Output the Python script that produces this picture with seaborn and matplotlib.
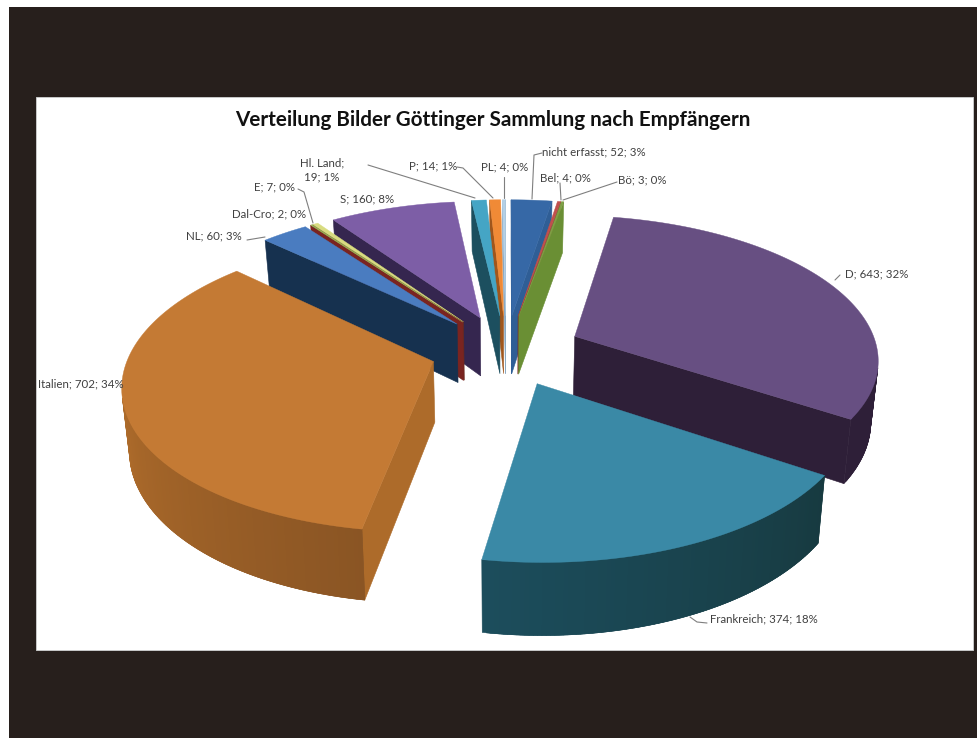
import numpy as np
import matplotlib
matplotlib.use("Agg")
import matplotlib.pyplot as plt
from matplotlib.colors import to_rgb
from matplotlib.patches import Polygon, Rectangle
import seaborn as sns

# Recipients and number of pictures, clockwise from twelve o'clock
recipients = ["nicht erfasst", "Bel", "Bö", "D", "Frankreich", "Italien", "NL",
              "Dal-Cro", "E", "S", "Hl. Land", "P", "PL"]
counts = [52, 4, 3, 643, 374, 702, 60, 2, 7, 160, 19, 14, 4]
shares = [3, 0, 0, 32, 18, 34, 3, 0, 0, 8, 1, 1, 0]

top_colors = ["#3668a6", "#c0504d", "#7f9f45", "#674f82", "#3a89a6", "#c47a34", "#4a7cc0",
              "#9bbb59", "#d8dc80", "#7d5ea6", "#45a5c5", "#f08a36", "#b4d0e6"]
side_colors = ["#2f5e96", "#7a2420", "#6a8f34", "#2e1f38", "#173a40", "#ad6b2a", "#16314f",
               "#7a2420", "#6a2a20", "#35264f", "#1c4f5f", "#a0561c", "#8aa8c0"]
rim_start = ["#2f5e96", "#7a2420", "#6a8f34", "#2e1f38", "#173a40", "#8a5524", "#16314f",
             "#7a2420", "#6a2a20", "#35264f", "#1c4f5f", "#a0561c", "#8aa8c0"]
rim_end = ["#2f5e96", "#7a2420", "#6a8f34", "#2e1f38", "#1c4d5c", "#cc7e30", "#16314f",
           "#7a2420", "#6a2a20", "#35264f", "#1c4f5f", "#a0561c", "#8aa8c0"]

TITLE = "Verteilung Bilder Göttinger Sammlung nach Empfängern"

# Perspective of the exploded pie on the canvas
CX, CY = 506.0, 350.0
RX, RY = 303.0, 142.0
TILT = 0.145
EXPLODE = 0.25
DEPTH = 60.0
TAPER = 0.98


def project(x, y):
    w = 1 + TILT * y
    return CX + RX * x / w, CY - RY * y / w


def lower(x, y):
    px, py = project(x, y)
    return CX + (px - CX) * TAPER, py + DEPTH / (1 + TILT * y)


def mix(a, b, t):
    a, b = np.array(to_rgb(a)), np.array(to_rgb(b))
    return tuple(a + (b - a) * t)


def signed_area(poly):
    xs, ys = np.array(poly).T
    return 0.5 * np.sum(xs * np.roll(ys, -1) - np.roll(xs, -1) * ys)


sns.set_theme(style="white")
plt.rcParams["font.family"] = ["Lato", "DejaVu Sans"]

fig = plt.figure(figsize=(9.78, 7.38), dpi=100, facecolor="#ffffff")
ax = fig.add_axes([0, 0, 1, 1])
ax.set_xlim(0, 978)
ax.set_ylim(738, 0)
ax.axis("off")
sns.despine(ax=ax, left=True, bottom=True)

# Dark mount with the white chart sheet on it
ax.add_patch(Rectangle((9, 7), 969, 731, color="#271f1c", lw=0, zorder=0))
ax.add_patch(Rectangle((35.5, 97), 937.5, 553, facecolor="#ffffff", edgecolor="#c8c8c8", lw=0.7, zorder=1))

edges = np.cumsum([0] + counts) / sum(counts) * 2 * np.pi
slices = []
for i in range(len(counts)):
    mid = (edges[i] + edges[i + 1]) / 2
    slices.append((EXPLODE * np.cos(mid), i, EXPLODE * np.sin(mid)))

# Painted from the back of the pie to the front
z = 2
for oy, i, ox in sorted(slices, reverse=True):
    th = np.linspace(edges[i], edges[i + 1], max(3, int(np.degrees(edges[i + 1] - edges[i]) * 1.5)))
    rim = [(ox + np.sin(t), oy + np.cos(t)) for t in th]
    apex = (ox, oy)
    faces = []
    # Radial side faces
    for a, b in ((apex, rim[0]), (rim[-1], apex)):
        quad = [project(*a), project(*b), lower(*b), lower(*a)]
        if signed_area(quad) < 0:
            faces.append((quad, side_colors[i]))
    # Outer rim in narrow strips that overlap their neighbour, shaded along the arc
    n = len(rim) - 1
    for k in range(n):
        a, b = rim[k], rim[k + 1]
        quad = [project(*a), project(*b), lower(*b), lower(*a)]
        if signed_area(quad) < 0:
            c = mix(rim_start[i], rim_end[i], k / max(1, n - 1))
            # Each strip starts one step back so no seam shows between them
            back = rim[max(k - 1, 0)]
            wide = [project(*back), project(*a), project(*b), lower(*b), lower(*a), lower(*back)]
            faces.append((wide, c))
    for quad, c in faces:
        ax.add_patch(Polygon(quad, closed=True, facecolor=c, edgecolor=c, lw=0.4, zorder=z))
    top = [project(*apex)] + [project(*p) for p in rim]
    ax.add_patch(Polygon(top, closed=True, facecolor=top_colors[i], edgecolor=top_colors[i],
                         lw=0.3, zorder=z + 0.5))
    z += 1

# Data labels and their leader lines
label_spots = {
    "nicht erfasst": (542, 152), "Bel": (540, 178), "Bö": (618, 180),
    "D": (845, 274), "Frankreich": (710, 619), "Italien": (38, 384),
    "NL": (186, 236), "Dal-Cro": (232, 214), "E": (254, 187),
    "S": (340, 199), "P": (409, 166), "PL": (481, 167),
}
leaders = [
    [(542, 153), (534, 155), (532, 199)], [(560, 183), (561, 200)], [(617, 182), (563, 200)],
    [(504, 177), (504, 198)], [(457, 167), (463, 168), (493, 198)], [(368, 165), (475, 198)],
    [(298, 189), (304, 192), (313, 223)], [(247, 240), (265, 237)],
    [(835, 280), (840, 275)], [(690, 617), (697, 622), (707, 623)],
]
for path in leaders:
    xs, ys = zip(*path)
    ax.plot(xs, ys, color="#7f7f7f", lw=0.8, zorder=40)

for name, n, pct in zip(recipients, counts, shares):
    if name == "Hl. Land":
        ax.text(322, 170, f"{name};\n{n}; {pct}%", ha="center", va="center", fontsize=8.3,
                color="#404040", linespacing=1.25, zorder=41)
        continue
    x, y = label_spots[name]
    ax.text(x, y, f"{name}; {n}; {pct}%", ha="left", va="center", fontsize=8.3, color="#404040", zorder=41)

ax.text(493, 120.5, TITLE, ha="center", va="center", fontsize=14.9, fontweight="bold",
        color="#111111", zorder=41)

fig.savefig("out.png", dpi=100, facecolor=fig.get_facecolor())
